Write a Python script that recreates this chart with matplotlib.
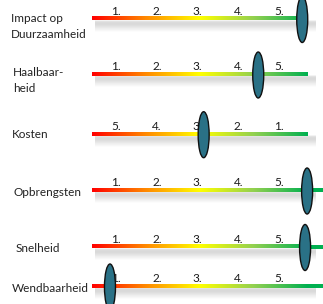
import matplotlib.pyplot as plt
import numpy as np
from matplotlib.colors import LinearSegmentedColormap
from matplotlib.patches import Ellipse

# criteria and where the marker sits on each scale (scale units 1..5)
criteria = ['Impact op\nDuurzaamheid', 'Haalbaar-\nheid', 'Kosten',
            'Opbrengsten', 'Snelheid', 'Wendbaarheid']
marker_pos = [5.57, 4.49, 3.15, 5.69, 5.64, 0.85]
scale_labels = [['1.', '2.', '3.', '4.', '5.'],
                ['1.', '2.', '3.', '4.', '5.'],
                ['5.', '4.', '3.', '2.', '1.'],
                ['1.', '2.', '3.', '4.', '5.'],
                ['1.', '2.', '3.', '4.', '5.'],
                ['1.', '2.', '3.', '4.', '5.']]
long_bar = [False, False, False, True, True, True]

# layout (y in pixel-like units, top = 0)
row_y = [18.5, 74, 133.7, 190, 246.5, 286]
label_y = [[19, 35], [72, 88], [134], [193], [249], [289]]
label_x = [-1.58, -1.53, -1.55, -1.53, -1.47, -1.55]

cmap = LinearSegmentedColormap.from_list(
    'rag', ['#ff0000', '#ff8a00', '#ffff00', '#92d050', '#00b050'])

fig = plt.figure(figsize=(3.23, 3.04), dpi=100)
ax = fig.add_axes([0, 0, 1, 1])
ax.set_xlim(-1.85, 6.08)
ax.set_ylim(304, 0)
ax.axis('off')

x0, x1 = 0.41, 5.71
grad = np.linspace(0, 1, 256).reshape(1, -1)
for i, name in enumerate(criteria):
    y = row_y[i]
    # soft shadow under the bar
    for k, a in zip(range(2, 13), [0.08, 0.12, 0.14, 0.14, 0.13, 0.11, 0.09, 0.07, 0.05, 0.03, 0.02]):
        ax.plot([x0 + 0.08, x1 + 0.2], [y + k, y + k], color='#555555',
                alpha=a, lw=1.2, solid_capstyle='butt', zorder=1)
    ax.imshow(grad, cmap=cmap, aspect='auto', zorder=2,
              extent=[x0, x1, y + 2, y - 2])
    if long_bar[i]:
        ax.fill_between([x1, 6.1], y - 2, y + 2, color='#00b050', lw=0, zorder=2)
    for j, lab in enumerate(scale_labels[i]):
        ax.text(j + 1, y - 1.5, lab, ha='center', va='bottom', fontsize=8.5,
                family='Lato', color='#1a1a1a', zorder=3)
    ax.add_patch(Ellipse((marker_pos[i], y + 1), 0.27, 46, facecolor='#2a7186',
                         edgecolor='#111111', lw=1.0, zorder=4))
    for line, ly in zip(name.split('\n'), label_y[i]):
        ax.text(label_x[i], ly, line, ha='left', va='center', fontsize=8.5,
                family='Lato', color='#222222')

fig.savefig('out.png', dpi=100)
